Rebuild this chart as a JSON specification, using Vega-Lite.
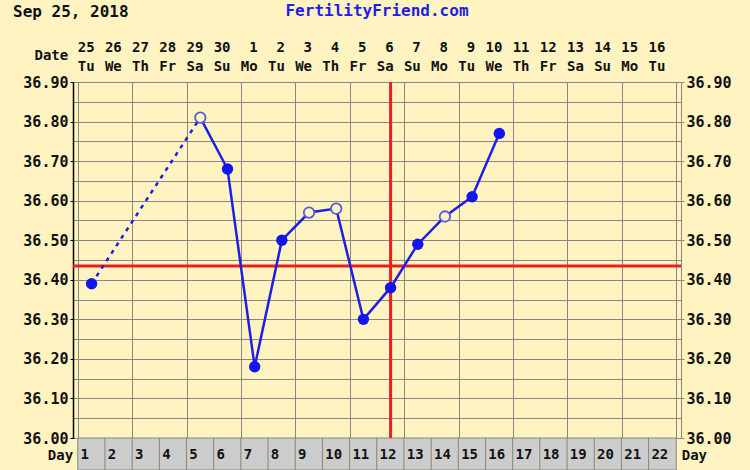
{
  "$schema": "https://vega.github.io/schema/vega-lite/v6.json",
  "width": 608,
  "height": 356,
  "autosize": "none",
  "padding": {"left": 73, "top": 82, "right": 69, "bottom": 32},
  "background": "#FEF3C1",
  "config": {
    "view": {"fill": "#FEF3C1", "stroke": "#888880", "strokeWidth": 1},
    "font": "DejaVu Sans Mono",
    "text": {"font": "DejaVu Sans Mono", "fontWeight": "bold", "color": "#111111"}
  },
  "data": {"values": [{}]},
  "datasets": {
    "days": [
      {"day": 1, "date": "25", "wd": "Tu"}, {"day": 2, "date": "26", "wd": "We"},
      {"day": 3, "date": "27", "wd": "Th"}, {"day": 4, "date": "28", "wd": "Fr"},
      {"day": 5, "date": "29", "wd": "Sa"}, {"day": 6, "date": "30", "wd": "Su"},
      {"day": 7, "date": "1", "wd": "Mo"}, {"day": 8, "date": "2", "wd": "Tu"},
      {"day": 9, "date": "3", "wd": "We"}, {"day": 10, "date": "4", "wd": "Th"},
      {"day": 11, "date": "5", "wd": "Fr"}, {"day": 12, "date": "6", "wd": "Sa"},
      {"day": 13, "date": "7", "wd": "Su"}, {"day": 14, "date": "8", "wd": "Mo"},
      {"day": 15, "date": "9", "wd": "Tu"}, {"day": 16, "date": "10", "wd": "We"},
      {"day": 17, "date": "11", "wd": "Th"}, {"day": 18, "date": "12", "wd": "Fr"},
      {"day": 19, "date": "13", "wd": "Sa"}, {"day": 20, "date": "14", "wd": "Su"},
      {"day": 21, "date": "15", "wd": "Mo"}, {"day": 22, "date": "16", "wd": "Tu"}
    ],
    "temps": [
      {"day": 1, "temp": 36.39, "kind": "filled"},
      {"day": 5, "temp": 36.81, "kind": "open"},
      {"day": 6, "temp": 36.68, "kind": "filled"},
      {"day": 7, "temp": 36.18, "kind": "filled"},
      {"day": 8, "temp": 36.50, "kind": "filled"},
      {"day": 9, "temp": 36.57, "kind": "open"},
      {"day": 10, "temp": 36.58, "kind": "open"},
      {"day": 11, "temp": 36.30, "kind": "filled"},
      {"day": 12, "temp": 36.38, "kind": "filled"},
      {"day": 13, "temp": 36.49, "kind": "filled"},
      {"day": 14, "temp": 36.56, "kind": "open"},
      {"day": 15, "temp": 36.61, "kind": "filled"},
      {"day": 16, "temp": 36.77, "kind": "filled"}
    ]
  },
  "resolve": {"axis": {"y": "independent"}},
  "layer": [
    {
      "data": {"name": "days"},
      "mark": {"type": "bar", "size": 27.64, "fill": "#CCCCCC", "stroke": "#888880", "strokeWidth": 1, "clip": false},
      "encoding": {
        "x": {
          "field": "day", "type": "quantitative",
          "scale": {"domain": [0.5, 22.5], "nice": false, "zero": false},
          "axis": {
            "values": [0.5,1.5,2.5,3.5,4.5,5.5,6.5,7.5,8.5,9.5,10.5,11.5,12.5,13.5,14.5,15.5,16.5,17.5,18.5,19.5,20.5,21.5,22.5],
            "grid": true, "gridColor": "#888880", "gridOpacity": 1, "gridWidth": 1,
            "labels": false, "ticks": false, "domain": false, "title": null
          }
        },
        "y": {
          "datum": 36.0, "type": "quantitative",
          "scale": {"domain": [36.0, 36.9], "nice": false, "zero": false},
          "axis": {
            "orient": "left",
            "values": [36.0,36.05,36.1,36.15,36.2,36.25,36.3,36.35,36.4,36.45,36.5,36.55,36.6,36.65,36.7,36.75,36.8,36.85,36.9],
            "labelExpr": "round(datum.value*20) % 2 == 0 ? format(datum.value, '.2f') : ''",
            "grid": true, "gridColor": "#888880", "gridOpacity": 1, "gridWidth": 1,
            "tickOpacity": {"condition": {"test": "round(datum.value*20) % 2 == 0", "value": 1}, "value": 0},
            "tickSize": 3, "tickColor": "#000000",
            "domain": true, "domainColor": "#000000", "domainWidth": 1.5,
            "labelFont": "DejaVu Sans Mono", "labelFontWeight": "bold", "labelFontSize": 15, "labelColor": "#111111",
            "labelPadding": 2, "title": null
          }
        },
        "y2": {"datum": 35.919}
      }
    },
    {
      "data": {"name": "days"},
      "mark": {"type": "text", "align": "left", "baseline": "middle", "dx": -11, "fontSize": 14, "clip": false},
      "encoding": {
        "x": {"field": "day", "type": "quantitative"},
        "y": {
          "datum": 35.957, "type": "quantitative",
          "axis": {
            "orient": "right",
            "values": [36.0,36.1,36.2,36.3,36.4,36.5,36.6,36.7,36.8,36.9],
            "format": ".2f", "grid": false,
            "tickSize": 3, "tickColor": "#888880", "domain": false,
            "labelFont": "DejaVu Sans Mono", "labelFontWeight": "bold", "labelFontSize": 15, "labelColor": "#111111",
            "labelPadding": 2, "title": null
          }
        },
        "text": {"field": "day"}
      }
    },
    {
      "data": {"name": "days"},
      "mark": {"type": "text", "align": "right", "baseline": "middle", "dx": 3, "fontSize": 14, "clip": false},
      "encoding": {
        "x": {"field": "day", "type": "quantitative"},
        "y": {"datum": 36.987, "axis": null},
        "text": {"field": "date"}
      }
    },
    {
      "data": {"name": "days"},
      "mark": {"type": "text", "align": "right", "baseline": "middle", "dx": 3, "fontSize": 14, "clip": false},
      "encoding": {
        "x": {"field": "day", "type": "quantitative"},
        "y": {"datum": 36.937, "axis": null},
        "text": {"field": "wd"}
      }
    },
    {
      "mark": {"type": "text", "align": "right", "baseline": "middle", "fontSize": 14, "clip": false},
      "encoding": {"x": {"datum": 0.14}, "y": {"datum": 36.966, "axis": null}, "text": {"value": "Date"}}
    },
    {
      "mark": {"type": "text", "align": "right", "baseline": "middle", "fontSize": 14, "clip": false},
      "encoding": {"x": {"datum": 0.32}, "y": {"datum": 35.954, "axis": null}, "text": {"value": "Day"}}
    },
    {
      "mark": {"type": "text", "align": "left", "baseline": "middle", "fontSize": 14, "clip": false},
      "encoding": {"x": {"datum": 22.71}, "y": {"datum": 35.954, "axis": null}, "text": {"value": "Day"}}
    },
    {
      "mark": {"type": "text", "align": "left", "baseline": "middle", "fontSize": 16, "clip": false},
      "encoding": {"x": {"datum": -1.89}, "y": {"datum": 37.077, "axis": null}, "text": {"value": "Sep 25, 2018"}}
    },
    {
      "mark": {"type": "text", "align": "center", "baseline": "middle", "fontSize": 16, "color": "#1E1EE6", "clip": false},
      "encoding": {"x": {"datum": 11.5}, "y": {"datum": 37.08, "axis": null}, "text": {"value": "FertilityFriend.com"}}
    },
    {
      "mark": {"type": "rule", "color": "#E82020", "strokeWidth": 3},
      "encoding": {"y": {"datum": 36.435, "axis": null}}
    },
    {
      "mark": {"type": "rule", "color": "#E82020", "strokeWidth": 3},
      "encoding": {"x": {"datum": 12}}
    },
    {
      "data": {"name": "temps"},
      "transform": [{"filter": "datum.day <= 5"}],
      "mark": {"type": "line", "color": "#1E1EE6", "strokeWidth": 2.5, "strokeDash": [4, 5]},
      "encoding": {
        "x": {"field": "day", "type": "quantitative"},
        "y": {"field": "temp", "type": "quantitative", "axis": null}
      }
    },
    {
      "data": {"name": "temps"},
      "transform": [{"filter": "datum.day >= 5"}],
      "mark": {"type": "line", "color": "#1E1EE6", "strokeWidth": 2.5},
      "encoding": {
        "x": {"field": "day", "type": "quantitative"},
        "y": {"field": "temp", "type": "quantitative", "axis": null}
      }
    },
    {
      "data": {"name": "temps"},
      "transform": [{"filter": "datum.kind == 'filled'"}],
      "mark": {"type": "circle", "size": 130, "color": "#1414F0", "opacity": 1},
      "encoding": {
        "x": {"field": "day", "type": "quantitative"},
        "y": {"field": "temp", "type": "quantitative", "axis": null}
      }
    },
    {
      "data": {"name": "temps"},
      "transform": [{"filter": "datum.kind == 'open'"}],
      "mark": {"type": "point", "shape": "circle", "size": 110, "filled": false, "fill": "#FEF3C1", "fillOpacity": 1, "stroke": "#5A5AE0", "strokeWidth": 1.8, "opacity": 1},
      "encoding": {
        "x": {"field": "day", "type": "quantitative"},
        "y": {"field": "temp", "type": "quantitative", "axis": null}
      }
    }
  ]
}
